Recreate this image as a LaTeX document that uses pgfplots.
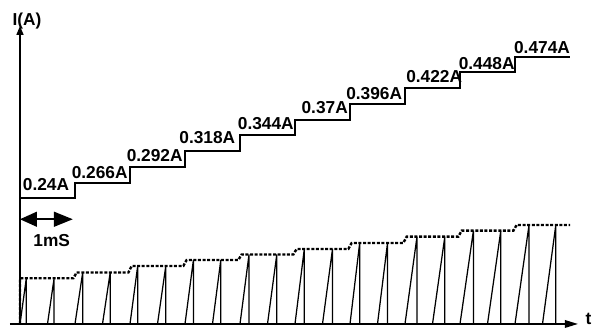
\documentclass[border=0pt]{standalone}
\usepackage{fontspec}
\setmainfont{Liberation Sans}
\usepackage{pgfplots}
\pgfplotsset{compat=1.18}
\usetikzlibrary{arrows.meta}
\tikzset{lbl/.style={font=\fontsize{17.3}{20}\selectfont\bfseries, anchor=base, inner sep=0pt}}
\begin{document}
\begin{tikzpicture}
\begin{axis}[
  width=595pt, height=329pt, scale only axis,
  xmin=-0.3636, xmax=10.4545, ymin=0.0239, ymax=0.5677,
  hide axis, clip=false,
]
% axes
\draw[line width=1.6pt,-{Triangle[length=13pt,width=7.5pt]}] (axis cs:-0.182,0.0322) -- (axis cs:10.145,0.0322);
\draw[line width=1.5pt,-{Triangle[length=9pt,width=7pt]}] (axis cs:0,0.0322) -- (axis cs:0,0.5248);
% staircase I(t)
\addplot[const plot, line width=2pt, black] coordinates {
 (0,0.24) (1,0.266) (2,0.292) (3,0.318) (4,0.344) (5,0.37)
 (6,0.396) (7,0.422) (8,0.448) (9,0.474) (10,0.474)};
% sawtooth
\addplot[line width=1.25pt, black] coordinates {
 (0,0.0322) (0.115,0.1077) (0.115,0.0322)
 (0.5,0.0322) (0.620,0.1077) (0.620,0.0322)
 (1.0,0.0322) (1.140,0.1173) (1.140,0.0322)
 (1.5,0.0322) (1.640,0.1173) (1.640,0.0322)
 (2.0,0.0322) (2.140,0.1281) (2.140,0.0322)
 (2.5,0.0322) (2.651,0.1281) (2.651,0.0322)
 (3.0,0.0322) (3.153,0.1380) (3.153,0.0322)
 (3.5,0.0322) (3.651,0.1380) (3.651,0.0322)
 (4.0,0.0322) (4.164,0.1471) (4.164,0.0322)
 (4.5,0.0322) (4.669,0.1471) (4.669,0.0322)
 (5.0,0.0322) (5.169,0.1562) (5.169,0.0322)
 (5.5,0.0322) (5.682,0.1562) (5.682,0.0322)
 (6.0,0.0322) (6.176,0.1661) (6.176,0.0322)
 (6.5,0.0322) (6.682,0.1661) (6.682,0.0322)
 (7.0,0.0322) (7.218,0.1765) (7.218,0.0322)
 (7.5,0.0322) (7.724,0.1765) (7.724,0.0322)
 (8.0,0.0322) (8.244,0.1864) (8.244,0.0322)
 (8.5,0.0322) (8.742,0.1864) (8.742,0.0322)
 (9.0,0.0322) (9.255,0.1958) (9.255,0.0322)
 (9.5,0.0322) (9.742,0.1958) (9.742,0.0322)};
% dashed envelope
\addplot[line width=2.4pt, black, dash pattern=on 3pt off 1.6pt] coordinates {
 (0,0.0322) (0,0.1077) (0.97,0.1077) (1.03,0.1173) (1.97,0.1173) (2.03,0.1281)
 (2.97,0.1281) (3.03,0.1380) (3.97,0.1380) (4.03,0.1471) (4.97,0.1471)
 (5.03,0.1562) (5.97,0.1562) (6.03,0.1661) (6.97,0.1661) (7.03,0.1765)
 (7.97,0.1765) (8.03,0.1864) (8.97,0.1864) (9.03,0.1958) (10,0.1958)};
% 1 ms marker
\draw[line width=1.5pt,{Triangle[length=17pt,width=15pt]}-{Triangle[length=19pt,width=15pt]}] (axis cs:0,0.2053) -- (axis cs:0.96,0.2053);
\node[lbl] at (axis cs:0.576,0.160) {1mS};
\node[lbl] at (axis cs:0.127,0.5248) {I(A)};
\node[lbl] at (axis cs:10.336,0.0306) {t};
\node[lbl] at (axis cs:0.473,0.2525) {0.24A};
\node[lbl] at (axis cs:1.449,0.2719) {0.266A};
\node[lbl] at (axis cs:2.449,0.3005) {0.292A};
\node[lbl] at (axis cs:3.405,0.3309) {0.318A};
\node[lbl] at (axis cs:4.469,0.3529) {0.344A};
\node[lbl] at (axis cs:5.540,0.3793) {0.37A};
\node[lbl] at (axis cs:6.440,0.4036) {0.396A};
\node[lbl] at (axis cs:7.531,0.4310) {0.422A};
\node[lbl] at (axis cs:8.485,0.4532) {0.448A};
\node[lbl] at (axis cs:9.491,0.4796) {0.474A};
\end{axis}
\pgfresetboundingbox
\path (current axis.south west) rectangle (current axis.north east);
\end{tikzpicture}
\end{document}
